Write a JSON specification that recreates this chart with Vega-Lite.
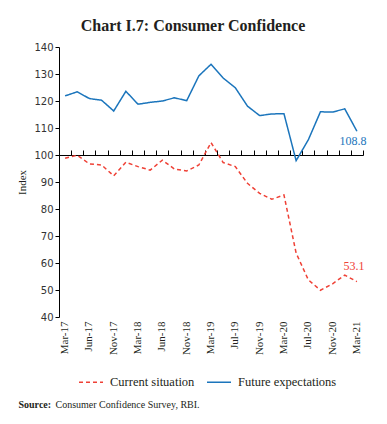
{
  "$schema": "https://vega.github.io/schema/vega-lite/v6.json",
  "width": 304,
  "height": 270,
  "autosize": {"type": "none"},
  "padding": {"left": 59, "top": 47, "right": 24, "bottom": 107},
  "background": "white",
  "config": {"view": {"stroke": null}, "font": "Liberation Serif"},
  "title": {
    "text": "Chart I.7: Consumer Confidence",
    "font": "Liberation Serif",
    "fontSize": 16,
    "fontWeight": "bold",
    "color": "#231f20",
    "anchor": "middle",
    "frame": "group",
    "dx": -18,
    "baseline": "alphabetic",
    "offset": -5
  },
  "data": {
    "values": [
      {"date": "Mar-17", "series": "Current situation", "value": 98.8},
      {"date": "May-17", "series": "Current situation", "value": 99.9},
      {"date": "Jun-17", "series": "Current situation", "value": 96.7},
      {"date": "Sep-17", "series": "Current situation", "value": 96.3},
      {"date": "Nov-17", "series": "Current situation", "value": 92.3},
      {"date": "Dec-17", "series": "Current situation", "value": 97.3},
      {"date": "Mar-18", "series": "Current situation", "value": 95.7},
      {"date": "May-18", "series": "Current situation", "value": 94.4},
      {"date": "Jun-18", "series": "Current situation", "value": 98.1},
      {"date": "Sep-18", "series": "Current situation", "value": 94.8},
      {"date": "Nov-18", "series": "Current situation", "value": 94.1},
      {"date": "Dec-18", "series": "Current situation", "value": 96.3},
      {"date": "Mar-19", "series": "Current situation", "value": 104.6},
      {"date": "May-19", "series": "Current situation", "value": 97.2},
      {"date": "Jul-19", "series": "Current situation", "value": 95.7},
      {"date": "Sep-19", "series": "Current situation", "value": 89.5},
      {"date": "Nov-19", "series": "Current situation", "value": 85.8},
      {"date": "Jan-20", "series": "Current situation", "value": 83.6},
      {"date": "Mar-20", "series": "Current situation", "value": 85.2},
      {"date": "May-20", "series": "Current situation", "value": 63.7},
      {"date": "Jul-20", "series": "Current situation", "value": 53.8},
      {"date": "Sep-20", "series": "Current situation", "value": 49.9},
      {"date": "Nov-20", "series": "Current situation", "value": 52.3},
      {"date": "Jan-21", "series": "Current situation", "value": 55.5},
      {"date": "Mar-21", "series": "Current situation", "value": 53.1},
      {"date": "Mar-17", "series": "Future expectations", "value": 121.9},
      {"date": "May-17", "series": "Future expectations", "value": 123.4},
      {"date": "Jun-17", "series": "Future expectations", "value": 120.9},
      {"date": "Sep-17", "series": "Future expectations", "value": 120.3},
      {"date": "Nov-17", "series": "Future expectations", "value": 116.3},
      {"date": "Dec-17", "series": "Future expectations", "value": 123.6},
      {"date": "Mar-18", "series": "Future expectations", "value": 118.8},
      {"date": "May-18", "series": "Future expectations", "value": 119.5},
      {"date": "Jun-18", "series": "Future expectations", "value": 120.0},
      {"date": "Sep-18", "series": "Future expectations", "value": 121.2},
      {"date": "Nov-18", "series": "Future expectations", "value": 120.1},
      {"date": "Dec-18", "series": "Future expectations", "value": 129.3},
      {"date": "Mar-19", "series": "Future expectations", "value": 133.6},
      {"date": "May-19", "series": "Future expectations", "value": 128.5},
      {"date": "Jul-19", "series": "Future expectations", "value": 124.9},
      {"date": "Sep-19", "series": "Future expectations", "value": 118.1},
      {"date": "Nov-19", "series": "Future expectations", "value": 114.6},
      {"date": "Jan-20", "series": "Future expectations", "value": 115.2},
      {"date": "Mar-20", "series": "Future expectations", "value": 115.3},
      {"date": "May-20", "series": "Future expectations", "value": 97.9},
      {"date": "Jul-20", "series": "Future expectations", "value": 105.6},
      {"date": "Sep-20", "series": "Future expectations", "value": 116.0},
      {"date": "Nov-20", "series": "Future expectations", "value": 115.9},
      {"date": "Jan-21", "series": "Future expectations", "value": 117.1},
      {"date": "Mar-21", "series": "Future expectations", "value": 108.8}
    ]
  },
  "resolve": {"axis": {"x": "independent", "y": "independent"}},
  "layer": [
    {
      "mark": {"type": "line", "strokeWidth": 1.5},
      "encoding": {
        "x": {
          "field": "date",
          "type": "nominal",
          "sort": null,
          "bandPosition": 0.5,
          "scale": {"type": "band", "paddingInner": 0, "paddingOuter": 0},
          "axis": {
            "values": ["Mar-17", "Jun-17", "Nov-17", "Mar-18", "Jun-18", "Nov-18", "Mar-19", "Jul-19", "Nov-19", "Mar-20", "Jul-20", "Nov-20", "Mar-21"],
            "domain": false,
            "ticks": false,
            "grid": false,
            "labelAngle": -90,
            "labelAlign": "right",
            "labelBaseline": "middle",
            "labelPadding": 4,
            "labelFont": "Liberation Serif",
            "labelFontSize": 11,
            "labelColor": "#231f20",
            "labelOverlap": false,
            "title": "Source:",
            "titleFont": "Liberation Serif",
            "titleFontWeight": "bold",
            "titleFontSize": 10,
            "titleColor": "#231f20",
            "titleX": -41,
            "titleY": 90,
            "titleAnchor": "start",
            "titleAlign": "left",
            "titleBaseline": "alphabetic"
          }
        },
        "y": {
          "field": "value",
          "type": "quantitative",
          "scale": {"domain": [40, 140], "nice": false, "zero": false},
          "axis": {
            "values": [40, 50, 60, 70, 80, 90, 100, 110, 120, 130, 140],
            "grid": false,
            "domainColor": "#000000",
            "tickColor": "#000000",
            "tickSize": 4,
            "labelFont": "DejaVu Sans",
            "labelFontSize": 10,
            "labelColor": "#333333",
            "labelPadding": 2,
            "title": "Index",
            "titleFont": "Liberation Serif",
            "titleFontWeight": "normal",
            "titleFontSize": 11,
            "titleColor": "#231f20",
            "titlePadding": 6
          }
        },
        "color": {
          "field": "series",
          "type": "nominal",
          "scale": {"domain": ["Current situation", "Future expectations"], "range": ["#ef4136", "#1b75bc"]},
          "legend": {
            "orient": "none",
            "legendX": 19,
            "legendY": 322,
            "direction": "horizontal",
            "title": null,
            "padding": 0,
            "symbolType": "stroke",
            "symbolSize": 576,
            "symbolStrokeWidth": 1.5,
            "labelFont": "Liberation Serif",
            "labelFontSize": 12.5,
            "labelColor": "#231f20",
            "labelOffset": 6,
            "columnPadding": 9
          }
        },
        "strokeDash": {
          "field": "series",
          "type": "nominal",
          "scale": {"domain": ["Current situation", "Future expectations"], "range": [[4, 3], [1, 0]]},
          "legend": {
            "orient": "none",
            "legendX": 19,
            "legendY": 322,
            "direction": "horizontal",
            "title": null,
            "padding": 0,
            "symbolType": "stroke",
            "symbolSize": 576,
            "symbolStrokeWidth": 1.5,
            "labelFont": "Liberation Serif",
            "labelFontSize": 12.5,
            "labelColor": "#231f20",
            "labelOffset": 6,
            "columnPadding": 9
          }
        }
      }
    },
    {
      "transform": [{"filter": "datum.series == 'Future expectations' && datum.date == 'Mar-21'"}],
      "mark": {"type": "text", "font": "Liberation Serif", "fontSize": 12, "color": "#1b75bc", "dx": -4, "dy": 10},
      "encoding": {
        "x": {
          "field": "date",
          "type": "nominal",
          "sort": null,
          "bandPosition": 0.5,
          "axis": {
            "labels": false,
            "grid": false,
            "domain": true,
            "domainColor": "#000000",
            "ticks": true,
            "tickColor": "#000000",
            "tickSize": 5,
            "tickBand": "extent",
            "offset": -108,
            "title": "Consumer Confidence Survey, RBI.",
            "titleFont": "Liberation Serif",
            "titleFontWeight": "normal",
            "titleFontSize": 10,
            "titleColor": "#231f20",
            "titleX": -4,
            "titleY": 252,
            "titleAnchor": "start",
            "titleAlign": "left",
            "titleBaseline": "alphabetic"
          }
        },
        "y": {"field": "value", "type": "quantitative", "axis": null},
        "text": {"field": "value", "type": "quantitative", "format": ".1f"}
      }
    },
    {
      "transform": [{"filter": "datum.series == 'Current situation' && datum.date == 'Mar-21'"}],
      "mark": {"type": "text", "font": "Liberation Serif", "fontSize": 12, "color": "#ef4136", "dx": -3, "dy": -16},
      "encoding": {
        "x": {"field": "date", "type": "nominal", "sort": null, "bandPosition": 0.5, "axis": null},
        "y": {"field": "value", "type": "quantitative", "axis": null},
        "text": {"field": "value", "type": "quantitative", "format": ".1f"}
      }
    }
  ]
}
